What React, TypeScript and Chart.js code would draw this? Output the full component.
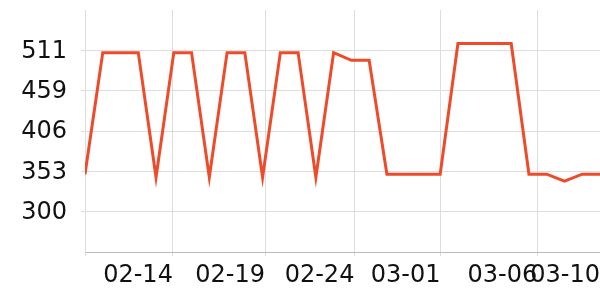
import React, { useEffect, useRef } from "react";
import { Chart, registerables } from "chart.js";

Chart.register(...registerables);

// series values, one per day sample (index 0..29)
const values: number[] = [
  349, 508, 508, 508, 345, 508, 508, 345, 508, 508,
  345, 508, 508, 345, 508, 498, 498, 349, 349, 349,
  349, 520, 520, 520, 520, 349, 349, 340, 349, 349,
];

// date tick labels and where they fall along the series index
const tickLabels: string[] = ["", "02-14", "02-19", "02-24", "03-01", "03-06", "03-10"];
const tickIndex: number[] = [0, 4.95, 10.14, 15.17, 20.02, 25.47, 29];

// value axis
const yMin = 247.25;
const yMax = 563.75;
const yStep = 52.75;

export default function App() {
  const ref = useRef<HTMLCanvasElement | null>(null);

  useEffect(() => {
    if (!ref.current) return;
    const font = { family: "'DejaVu Sans'", size: 24 };
    const chart = new Chart(ref.current, {
      type: "line",
      data: {
        datasets: [
          {
            data: values.map((v, i) => ({ x: i, y: v })),
            borderColor: "#ee4b2b",
            borderWidth: 3,
            borderJoinStyle: "miter",
            pointRadius: 0,
            tension: 0,
            fill: false,
          },
        ],
      },
      options: {
        animation: false,
        responsive: true,
        maintainAspectRatio: false,
        layout: { padding: { top: 10, right: 0, left: 0, bottom: 0 } },
        plugins: { legend: { display: false }, tooltip: { enabled: false } },
        scales: {
          x: {
            type: "linear",
            min: 0,
            max: values.length - 1,
            afterBuildTicks: (scale: any) => {
              scale.ticks = tickIndex.map((v) => ({ value: v }));
            },
            afterFit: (scale: any) => {
              scale.height = 48;
              scale.paddingLeft = 0;
              scale.paddingRight = 0;
            },
            ticks: {
              autoSkip: false,
              maxRotation: 0,
              minRotation: 0,
              align: "end",
              padding: 5,
              color: "#111",
              font,
              callback: (_v: any, i: number) => tickLabels[i],
            },
            grid: { color: "#dddddd", tickLength: 4, drawOnChartArea: true },
            border: { color: "#bbbbbb", width: 1 },
          },
          y: {
            min: yMin,
            max: yMax,
            afterFit: (scale: any) => {
              scale.width = 85;
              scale.paddingTop = 0;
              scale.paddingBottom = 0;
            },
            ticks: {
              stepSize: yStep,
              padding: 14,
              labelOffset: 1,
              color: "#111",
              font,
              callback: (v: any, i: number, arr: any[]) =>
                i === 0 || i === arr.length - 1 ? "" : String(Math.ceil(Number(v) - 1e-6)),
            },
            grid: {
              tickLength: 4,
              color: (ctx: any) =>
                ctx.index === 0 || ctx.tick?.value >= yMax - 0.01 ? "rgba(0,0,0,0)" : "#dddddd",
            },
            border: { color: "#dddddd", width: 1 },
          },
        },
      },
    });
    return () => chart.destroy();
  }, []);

  return (
    <div style={{ position: "absolute", left: 0, top: 0, width: 600, height: 300 }}>
      <canvas ref={ref} />
    </div>
  );
}
